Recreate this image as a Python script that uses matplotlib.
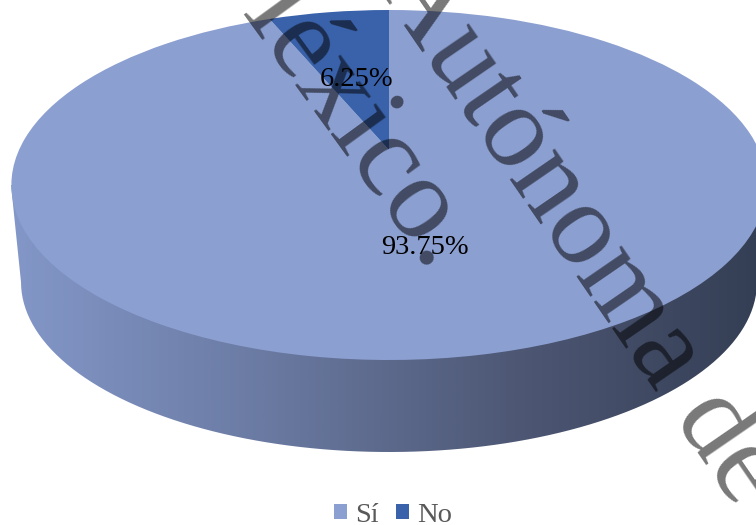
import numpy as np
import matplotlib
matplotlib.use("Agg")
import matplotlib.pyplot as plt
from matplotlib.colors import LinearSegmentedColormap
from matplotlib.patches import PathPatch
from matplotlib.path import Path
from matplotlib.transforms import Transform

labels = ["Sí", "No"]
values = [93.75, 6.25]
colors = ["#8C9FD1", "#3A62AA"]
pct_text = ["93.75%", "6.25%"]
watermark = ["Autónoma de", "México."]
side_colors = ["#8397C8", "#6A7AA2", "#4E5875", "#333D53"]

plt.rcParams["font.family"] = ["Liberation Serif", "DejaVu Serif"]


# perspective view of the unit circle, result is in pixels of the picture
class Tilted(Transform):
    input_dims = 2
    output_dims = 2

    def transform_non_affine(self, xy):
        xy = np.asarray(xy, dtype=float)
        w = 1 + 0.2 * xy[:, 1]
        return np.column_stack([389 + 370 * xy[:, 0] / w, 150 - 168 * xy[:, 1] / w])


fig = plt.figure(figsize=(7.56, 5.25), dpi=100)
ax = fig.add_axes([0, 0, 1, 1])

wedges, _ = ax.pie(values, colors=colors, startangle=90, counterclock=False, labels=None)
for w in wedges:
    w.set_transform(Tilted() + ax.transData)
    w.set_zorder(3)
    w.set_linewidth(0)

# side of the disc
t = np.linspace(np.pi, 0, 200)
px = 389 + 368 * np.cos(t)
py = 282 + 170 * np.sin(t)
verts = np.vstack([[11, 185], np.column_stack([px, py]), [767, 185], [11, 185]])
side = PathPatch(Path(verts), transform=ax.transData, fc="none", ec="none")
ax.add_patch(side)
cmap = LinearSegmentedColormap.from_list("side", side_colors)
grad = np.linspace(0, 1, 400).reshape(1, -1)
im = ax.imshow(grad, cmap=cmap, extent=[11, 767, 460, 180], aspect="auto", zorder=2)
im.set_clip_path(side)

ax.set_aspect("auto")
ax.set_xlim(0, 756)
ax.set_ylim(525, 0)
ax.axis("off")

ax.text(425, 248, pct_text[0], fontsize=20.5, ha="center", va="center", color="black", zorder=6)
ax.text(357, 80, pct_text[1], fontsize=20.5, ha="center", va="center", color="black", zorder=6)

ax.text(374, -18, watermark[0], fontsize=85, rotation=-55.5, rotation_mode="anchor",
        ha="left", va="baseline", color="black", alpha=0.53, zorder=5)
ax.text(200, -40, watermark[1], fontsize=85, rotation=-54, rotation_mode="anchor",
        ha="left", va="baseline", color="black", alpha=0.53, zorder=5)

ax.legend(wedges, labels, loc="lower center", bbox_to_anchor=(0.52, -0.005), ncol=2, frameon=False,
          fontsize=20.5, labelcolor="#595959", handlelength=0.46, handleheight=0.4,
          handletextpad=0.3, columnspacing=0.6, borderpad=0, borderaxespad=0)

fig.savefig("out.png", dpi=100)
